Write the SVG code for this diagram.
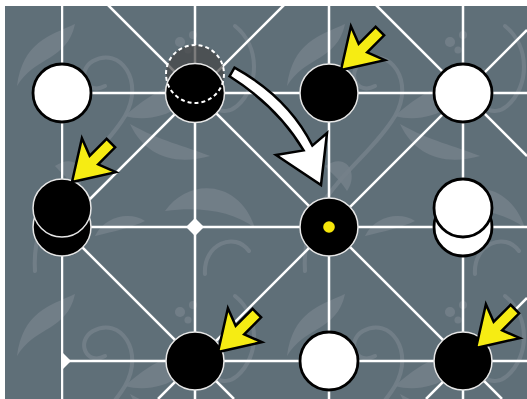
<svg xmlns="http://www.w3.org/2000/svg" xmlns:xlink="http://www.w3.org/1999/xlink" width="527" height="399" viewBox="0 0 527 399">
<defs>
<style>
.ln{stroke:#fff;stroke-width:2.5;fill:none}
.bp{fill:#000;stroke:#e6e6e6;stroke-width:1.5}
.wp{fill:#fff;stroke:#000;stroke-width:2.8}
.ya{fill:#f6ec13;stroke:#000;stroke-width:2.5;stroke-linejoin:miter}
.orn{fill:#75808a;fill-opacity:0.85}
.ornl{fill:none;stroke:#75808a;stroke-opacity:0.85;stroke-width:4;stroke-linecap:round}
</style>
<pattern id="damask" x="5" y="6" width="270" height="270" patternUnits="userSpaceOnUse">
<path class="ornl" d="M30,265 C25,190 90,160 120,110 C140,75 115,40 88,55 C70,66 82,90 100,80"/>
<path class="orn" d="M120,110 C150,118 185,105 210,62 C178,75 150,82 120,110 Z"/>
<path class="orn" d="M125,118 C140,150 170,160 205,150 C180,140 155,135 125,118 Z"/>
<path class="orn" d="M160,205 C185,170 235,175 250,222 C228,205 195,200 160,205 Z"/>
<path class="ornl" d="M200,268 C198,238 230,225 244,245"/>
<path class="orn" d="M12,80 C30,50 62,55 70,18 C44,30 18,36 12,80 Z"/>
<path class="orn" d="M50,160 C72,145 84,168 72,185 C64,172 57,168 50,160 Z"/>
<path class="ornl" d="M230,20 C255,40 255,80 232,100 C218,112 200,100 210,88"/>
<path class="orn" d="M90,230 C100,210 125,205 140,215 C125,222 110,225 90,230 Z"/>
<circle class="orn" cx="175" cy="36" r="5"/>
<circle class="orn" cx="188" cy="29" r="4"/>
<circle class="orn" cx="183" cy="44" r="3.5"/>
</pattern>
<path id="yarrow" d="M0,0 L38,-24 L31,-6 L55,-6 L55,6 L31,6 L38,24 Z"/>
<clipPath id="board"><rect x="61" y="0" width="466" height="399"/></clipPath>
</defs>
<rect x="0" y="0" width="527" height="399" fill="#5f6f78"/>
<rect x="0" y="0" width="527" height="399" fill="url(#damask)"/>
<g id="connectors" class="ln" clip-path="url(#board)">
<line x1="62" y1="0" x2="62" y2="399"/>
<line x1="195" y1="0" x2="195" y2="399"/>
<line x1="329" y1="0" x2="329" y2="399"/>
<line x1="463" y1="0" x2="463" y2="399"/>
<line x1="62" y1="93" x2="527" y2="93"/>
<line x1="62" y1="227" x2="527" y2="227"/>
<line x1="62" y1="361" x2="527" y2="361"/>
<line x1="62" y1="227" x2="289" y2="0"/>
<line x1="158" y1="399" x2="527" y2="30"/>
<line x1="426" y1="399" x2="527" y2="298"/>
<line x1="62" y1="227" x2="234" y2="399"/>
<line x1="103" y1="0" x2="502" y2="399"/>
<line x1="371" y1="0" x2="527" y2="156"/>
</g>
<g id="markers" fill="#fff">
<polygon points="195,218 204,227 195,236 186,227"/>
<polygon points="62,352 71,361 62,370"/>
</g>
<g id="p-a1"><circle class="wp" cx="62" cy="93" r="29"/></g>
<g id="p-b1">
<circle cx="195" cy="74" r="29" fill="#444" fill-opacity="0.7"/>
<circle class="bp" cx="195" cy="93" r="29.5"/>
<circle cx="195" cy="74" r="29" fill="none" stroke="#fff" stroke-width="2" stroke-dasharray="4 3"/>
</g>
<g id="p-c1"><circle class="bp" cx="329" cy="93" r="29"/></g>
<g id="p-d1"><circle class="wp" cx="463" cy="93" r="29"/></g>
<g id="p-a2">
<circle class="bp" cx="62" cy="227" r="29"/>
<circle class="bp" cx="62" cy="208" r="29"/>
</g>
<g id="p-c2">
<circle class="bp" cx="329" cy="227" r="29"/>
<circle cx="329" cy="227" r="5.8" fill="#f6e60a"/>
</g>
<g id="p-d2">
<circle class="wp" cx="463" cy="227" r="29"/>
<circle class="wp" cx="463" cy="208" r="29"/>
</g>
<g id="p-b3"><circle class="bp" cx="195" cy="361" r="29"/></g>
<g id="p-c3"><circle class="wp" cx="329" cy="361" r="29"/></g>
<g id="p-d3"><circle class="bp" cx="463" cy="361" r="29"/></g>
<g id="arrows">
<use xlink:href="#yarrow" class="ya" transform="translate(341,70) rotate(-45)"/>
<use xlink:href="#yarrow" class="ya" transform="translate(72,182) rotate(-45)"/>
<use xlink:href="#yarrow" class="ya" transform="translate(218,352) rotate(-45)"/>
<use xlink:href="#yarrow" class="ya" transform="translate(476,348) rotate(-45)"/>
<path id="move" d="M229.5,76.3 L234.5,67.7 Q288,97 312.4,145.6 L327,133 L321,185 L276,155 L303.6,150.4 Q278,107 229.5,76.3 Z" fill="#fff" stroke="#000" stroke-width="2.5" stroke-linejoin="miter"/>
</g>
<rect x="0" y="0" width="527" height="6" fill="#fff"/>
<rect x="0" y="0" width="5" height="399" fill="#fff"/>
</svg>
